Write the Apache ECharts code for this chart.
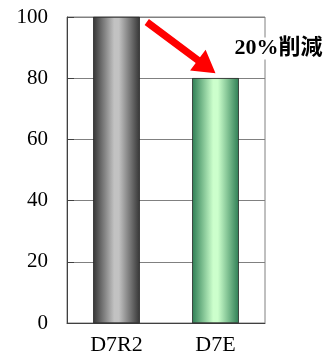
<!DOCTYPE html>
<html>
<head>
<meta charset="utf-8">
<script src="https://cdn.jsdelivr.net/npm/echarts@6/dist/echarts.min.js"></script>
<style>
  html, body { margin: 0; padding: 0; background: #fff; }
  #main { width: 326px; height: 362px; }
</style>
</head>
<body>
<div id="main"></div>
<script>
const categories = ['D7R2', 'D7E']
const values = [100, 80]
const yTicks = [0, 20, 40, 60, 80, 100]
const noteText = '20%削減'

// bar fills: dark edges, light middle
function barFill(edge, mid) {
  return new echarts.graphic.LinearGradient(0, 0, 1, 0, [
    { offset: 0, color: edge },
    { offset: 0.45, color: mid },
    { offset: 0.55, color: mid },
    { offset: 1, color: edge }
  ])
}
const fills = [
  barFill('#363636', '#c2c2c2'),
  barFill('#2f7f55', '#ccffcc')
]
const serif = '"Liberation Serif", "Times New Roman", serif'

const chart = echarts.init(document.getElementById('main'))
chart.setOption({
  animation: false,
  grid: { left: 67, right: 61, top: 17, bottom: 39, show: true, borderColor: '#808080', borderWidth: 1 },
  xAxis: {
    type: 'category',
    data: categories,
    axisLine: { lineStyle: { color: '#404040' } },
    axisTick: { show: false },
    axisLabel: { fontFamily: serif, fontSize: 22, color: '#000', margin: 11 }
  },
  yAxis: {
    type: 'value',
    min: yTicks[0],
    max: yTicks[yTicks.length - 1],
    interval: 20,
    axisLine: { show: true, lineStyle: { color: '#404040' } },
    axisTick: { show: true, inside: true, length: 7, lineStyle: { color: '#404040' } },
    splitLine: { lineStyle: { color: '#808080' } },
    axisLabel: { fontFamily: serif, fontSize: 21, color: '#000', margin: 19 }
  },
  series: [{
    type: 'bar',
    barWidth: '47%',
    data: values.map((v, i) => ({ value: v, itemStyle: { color: fills[i], borderColor: '#222', borderWidth: 0.5 } }))
  }]
})

// arrow from top of first bar down to second bar, placed via the axes
function drawArrow() {
  const p0 = chart.convertToPixel({ gridIndex: 0 }, [0, values[0]])
  const p1 = chart.convertToPixel({ gridIndex: 0 }, [1, values[1]])
  const half = (p1[0] - p0[0]) * 0.235
  const sx = p0[0] + half + 7, sy = p0[1] + 5
  const tx = p1[0], ty = p1[1] - 5
  const dx = tx - sx, dy = ty - sy
  const len = Math.sqrt(dx * dx + dy * dy)
  const ux = dx / len, uy = dy / len
  const nx = -uy, ny = ux
  const headLen = 22, headW = 13, shaftW = 3.6
  const bx = tx - ux * headLen, by = ty - uy * headLen
  const pts = [
    [sx + nx * shaftW, sy + ny * shaftW],
    [bx + nx * shaftW, by + ny * shaftW],
    [bx + nx * headW, by + ny * headW],
    [tx, ty],
    [bx - nx * headW, by - ny * headW],
    [bx - nx * shaftW, by - ny * shaftW],
    [sx - nx * shaftW, sy - ny * shaftW]
  ]
  chart.setOption({
    graphic: [
      { type: 'polygon', shape: { points: pts }, style: { fill: '#ff0000' }, z: 100 },
      {
        type: 'text',
        x: p1[0] + 63, y: chart.convertToPixel({ gridIndex: 0 }, [0, 90])[1] + 1,
        style: {
          text: noteText, fill: '#000', fontSize: 22, fontWeight: 'bold',
          fontFamily: '"Liberation Serif", "Noto Sans CJK JP", serif',
          align: 'center', verticalAlign: 'middle', backgroundColor: '#fff'
        },
        z: 100
      }
    ]
  })
}
drawArrow()
</script>
</body>
</html>
